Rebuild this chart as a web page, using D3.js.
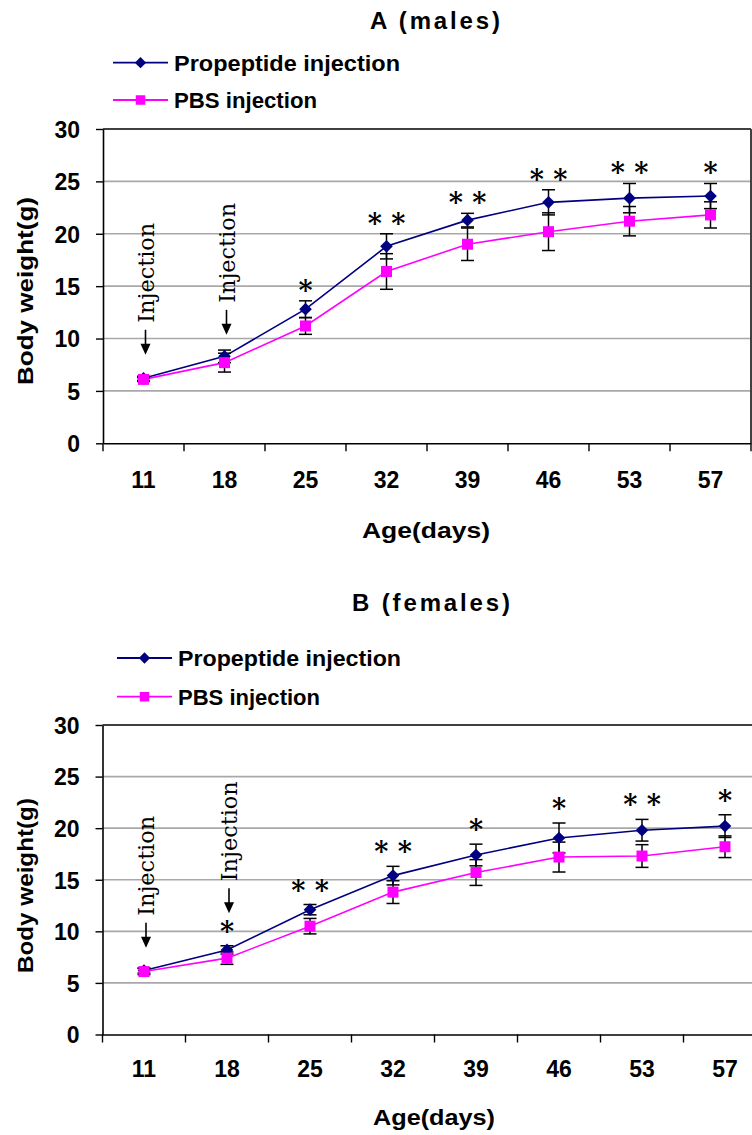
<!DOCTYPE html>
<html>
<head>
<meta charset="utf-8">
<script src="https://cdn.jsdelivr.net/npm/d3@7"></script>
<style>
  html, body { margin: 0; padding: 0; background: #fff; }
  svg { display: block; }
</style>
</head>
<body>
<svg id="chart" width="752" height="1135" font-family="Liberation Sans, Arial, sans-serif"></svg>
<script>
// ---------- data ----------
const days = ["11", "18", "25", "32", "39", "46", "53", "57"];
const yTicks = [0, 5, 10, 15, 20, 25, 30];
const seriesNames = ["Propeptide injection", "PBS injection"];

const maleProp     = [6.2, 8.3, 12.8, 18.8, 21.3, 23.0, 23.4, 23.6];
const malePropErr  = [0.2, 0.6, 0.8, 1.2, 0.65, 1.2, 1.4, 1.2];
const malePBS      = [6.1, 7.7, 11.2, 16.4, 19.0, 20.2, 21.2, 21.8];
const malePBSErr   = [0.2, 0.9, 0.8, 1.7, 1.55, 1.8, 1.4, 1.25];
const maleStars    = ["", "", "*", "* *", "* *", "* *", "* *", "*"];

const femaleProp    = [6.2, 8.2, 12.1, 15.4, 17.4, 19.05, 19.8, 20.2];
const femalePropErr = [0.25, 0.4, 0.5, 0.9, 1.05, 1.45, 1.05, 1.1];
const femalePBS     = [6.1, 7.4, 10.5, 13.8, 15.7, 17.2, 17.3, 18.2];
const femalePBSErr  = [0.3, 0.6, 0.75, 1.1, 1.25, 1.45, 1.1, 1.05];
const femaleStars   = ["", "*", "* *", "* *", "*", "*", "* *", "*"];

// injection annotations: day and weight value at the arrow tip
const maleInjections   = [{ day: "11", tip: 8.45 }, { day: "18", tip: 10.35 }];
const femaleInjections = [{ day: "11", tip: 8.4 },  { day: "18", tip: 11.75 }];

// ---------- layout ----------
const svg = d3.select("#chart");
const PROP_COLOR = "#000080";
const PBS_COLOR = "#ff00ff";
const SANS = "Liberation Sans, Arial, sans-serif";
const SERIF = "DejaVu Serif, serif";

const charts = [
  {
    title: "A (males)", prop: maleProp, propErr: malePropErr, pbs: malePBS, pbsErr: malePBSErr,
    stars: maleStars, inj: maleInjections, starOff: 16,
    left: 103, right: 751, top: 129, bottom: 443.3, drawRight: true,
    titleX: 435, titleY: 20, titleLen: 130,
    legendX: 113, legendY: [62.7, 100], legendLen: [226, 143],
    tickLabelY: 480, xTitleX: 426, xTitleY: 530, xTitleLen: 128,
    yTitleCY: 291, yTitleLen: 188
  },
  {
    title: "B (females)", prop: femaleProp, propErr: femalePropErr, pbs: femalePBS, pbsErr: femalePBSErr,
    stars: femaleStars, inj: femaleInjections, starOff: 20,
    left: 102.5, right: 766.5, top: 725, bottom: 1034.5, drawRight: false,
    titleX: 431, titleY: 602, titleLen: 158,
    legendX: 117, legendY: [658, 696.7], legendLen: [223, 142],
    tickLabelY: 1069, xTitleX: 434, xTitleY: 1117, xTitleLen: 122,
    yTitleCY: 885.5, yTitleLen: 175
  }
];

const diamond = d3.symbol().type(d3.symbolSquare).size(80);
const square = d3.symbol().type(d3.symbolSquare).size(121);
const diamondLeg = d3.symbol().type(d3.symbolSquare).size(64);
const squareLeg = d3.symbol().type(d3.symbolSquare).size(90);

charts.forEach(c => {
  const g = svg.append("g");
  const x = d3.scaleBand().domain(days).range([c.left, c.right]).paddingInner(0).paddingOuter(0);
  const y = d3.scaleLinear().domain([0, 30]).range([c.bottom, c.top]);
  const cx = d => x(d) + x.bandwidth() / 2;

  // gridlines
  g.append("g").selectAll("line").data(yTicks.filter(t => t > 0 && t < 30)).join("line")
    .attr("x1", c.left).attr("x2", c.right)
    .attr("y1", d => y(d)).attr("y2", d => y(d))
    .attr("stroke", "#a8a8a8").attr("stroke-width", 1.6);

  // plot border (top / right)
  g.append("line").attr("x1", c.left).attr("x2", c.right).attr("y1", y(30)).attr("y2", y(30))
    .attr("stroke", "#404040").attr("stroke-width", 2);
  if (c.drawRight) {
    g.append("line").attr("x1", c.right).attr("x2", c.right).attr("y1", y(30)).attr("y2", y(0))
      .attr("stroke", "#404040").attr("stroke-width", 2);
  }

  // y axis
  const yAxis = g.append("g").attr("transform", `translate(${c.left},0)`)
    .call(d3.axisLeft(y).tickValues(yTicks).tickSize(7).tickPadding(16).tickSizeOuter(0));
  yAxis.select(".domain").attr("stroke", "#000").attr("stroke-width", 1.6);
  yAxis.selectAll(".tick line").attr("stroke", "#000").attr("stroke-width", 1.4);
  yAxis.selectAll(".tick text")
    .style("font-family", SANS)
    .attr("font-size", 23).attr("font-weight", "bold").attr("fill", "#000")
    .attr("dy", "0.36em");

  // x axis (labels)
  const xAxis = g.append("g").attr("transform", `translate(0,${c.bottom})`)
    .call(d3.axisBottom(x).tickSize(0).tickSizeOuter(0));
  xAxis.select(".domain").attr("stroke", "#000").attr("stroke-width", 1.6);
  xAxis.selectAll(".tick text")
    .style("font-family", SANS)
    .attr("font-size", 23).attr("font-weight", "bold").attr("fill", "#000")
    .attr("y", c.tickLabelY - c.bottom).attr("dy", "0.36em");
  // x tick marks at category boundaries
  const edges = days.map(d => x(d)).concat([x(days[days.length - 1]) + x.bandwidth()]);
  g.append("g").selectAll("line").data(edges).join("line")
    .attr("x1", d => d).attr("x2", d => d)
    .attr("y1", c.bottom).attr("y2", c.bottom + 8)
    .attr("stroke", "#000").attr("stroke-width", 1.4);

  // titles
  g.append("text").attr("x", c.titleX).attr("y", c.titleY).attr("dy", "0.36em")
    .style("font-family", SANS)
    .attr("text-anchor", "middle").attr("font-size", 24).attr("font-weight", "bold")
    .attr("textLength", c.titleLen).attr("lengthAdjust", "spacing")
    .text(c.title);
  g.append("text").attr("x", c.xTitleX).attr("y", c.xTitleY).attr("dy", "0.36em")
    .style("font-family", SANS)
    .attr("text-anchor", "middle").attr("font-size", 22).attr("font-weight", "bold")
    .attr("textLength", c.xTitleLen).attr("lengthAdjust", "spacingAndGlyphs")
    .text("Age(days)");
  g.append("text").attr("transform", `translate(25,${c.yTitleCY}) rotate(-90)`)
    .style("font-family", SANS)
    .attr("dy", "0.36em")
    .attr("text-anchor", "middle").attr("font-size", 22).attr("font-weight", "bold")
    .attr("textLength", c.yTitleLen).attr("lengthAdjust", "spacingAndGlyphs")
    .text("Body weight(g)");

  // legend
  const legItems = [
    { name: seriesNames[0], color: PROP_COLOR, sym: diamondLeg, rot: 45 },
    { name: seriesNames[1], color: PBS_COLOR, sym: squareLeg, rot: 0 }
  ];
  legItems.forEach((it, i) => {
    const ly = c.legendY[i];
    g.append("line").attr("x1", c.legendX).attr("x2", c.legendX + 55)
      .attr("y1", ly).attr("y2", ly).attr("stroke", it.color).attr("stroke-width", 1.8);
    g.append("path").attr("d", it.sym())
      .attr("transform", `translate(${c.legendX + 27.5},${ly}) rotate(${it.rot})`)
      .attr("fill", it.color);
    g.append("text").attr("x", c.legendX + 61).attr("y", ly).attr("dy", "0.36em")
      .style("font-family", SANS)
      .attr("font-size", 22).attr("font-weight", "bold")
      .attr("textLength", c.legendLen[i]).attr("lengthAdjust", "spacingAndGlyphs")
      .text(it.name);
  });

  // lines
  const line = d3.line().x((v, i) => cx(days[i])).y(v => y(v));
  g.append("path").attr("d", line(c.prop)).attr("fill", "none")
    .attr("stroke", PROP_COLOR).attr("stroke-width", 1.6);
  g.append("path").attr("d", line(c.pbs)).attr("fill", "none")
    .attr("stroke", PBS_COLOR).attr("stroke-width", 1.6);

  // error bars
  const drawErr = (vals, errs) => {
    const eg = g.append("g").attr("stroke", "#000").attr("stroke-width", 1.5);
    vals.forEach((v, i) => {
      const px = cx(days[i]);
      const y1 = y(v + errs[i]), y2 = y(v - errs[i]);
      eg.append("line").attr("x1", px).attr("x2", px).attr("y1", y1).attr("y2", y2);
      eg.append("line").attr("x1", px - 6.5).attr("x2", px + 6.5).attr("y1", y1).attr("y2", y1);
      eg.append("line").attr("x1", px - 6.5).attr("x2", px + 6.5).attr("y1", y2).attr("y2", y2);
    });
  };
  drawErr(c.prop, c.propErr);
  drawErr(c.pbs, c.pbsErr);

  // markers
  g.append("g").selectAll("path").data(c.prop).join("path")
    .attr("d", diamond())
    .attr("transform", (v, i) => `translate(${cx(days[i])},${y(v)}) rotate(45)`)
    .attr("fill", PROP_COLOR);
  g.append("g").selectAll("path").data(c.pbs).join("path")
    .attr("d", square())
    .attr("transform", (v, i) => `translate(${cx(days[i])},${y(v)})`)
    .attr("fill", PBS_COLOR);

  // significance stars
  g.append("g").selectAll("text").data(c.stars).join("text")
    .attr("x", (s, i) => cx(days[i]))
    .attr("y", (s, i) => y(c.prop[i] + c.propErr[i]) - c.starOff + 15)
    .attr("text-anchor", "middle")
    .style("font-family", SERIF).attr("font-weight", "bold")
    .attr("font-size", 27).attr("fill", "#000")
    .style("white-space", "pre")
    .text(s => s);

  // injection annotations
  c.inj.forEach(a => {
    const px = cx(a.day) + 2;
    const tipY = y(a.tip);
    const arrowLen = 25;
    g.append("line").attr("x1", px).attr("x2", px).attr("y1", tipY - arrowLen).attr("y2", tipY - 8)
      .attr("stroke", "#000").attr("stroke-width", 1.6);
    g.append("path")
      .attr("d", `M${px - 5},${tipY - 11}L${px + 5},${tipY - 11}L${px},${tipY}Z`)
      .attr("fill", "#000");
    g.append("text")
      .attr("transform", `translate(${px},${tipY - arrowLen - 7}) rotate(-90)`)
      .attr("dy", "0.36em")
      .style("font-family", SERIF).attr("font-size", 23)
      .attr("textLength", 100).attr("lengthAdjust", "spacingAndGlyphs")
      .text("Injection");
  });
});
</script>
</body>
</html>
